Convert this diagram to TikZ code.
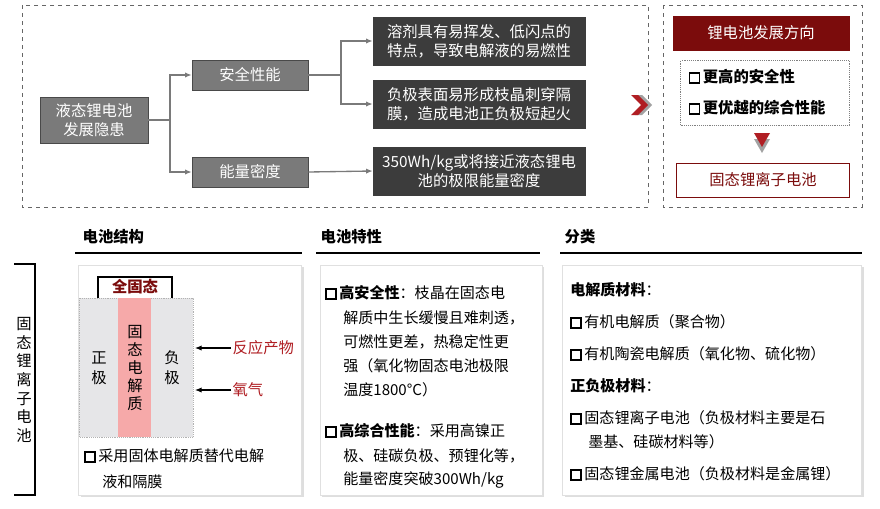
\documentclass[tikz,border=0pt]{standalone}
\usepackage{fontspec}
\setmainfont{Noto Sans CJK SC}
\usetikzlibrary{arrows.meta,shadows}
\definecolor{dred}{HTML}{7B0C0C}
\definecolor{mgray}{HTML}{7A7A7A}
\definecolor{dgray}{HTML}{3C3C3C}
\definecolor{lgray}{HTML}{E6E6E8}
\definecolor{pinkc}{HTML}{F6A9A9}
\definecolor{redc}{HTML}{B01E23}
\newcommand\bx{\tikz[baseline=0pt,x=1pt,y=1pt]\draw[line width=1.2pt,black](0,0)rectangle(7.5,7.5);\,}
\begin{document}
\begin{tikzpicture}[x=0.75pt,y=-0.75pt,
  gbox/.style={fill=mgray,text=white,draw=mgray!60!black,font=\fontsize{11.5}{14}\selectfont,align=center,inner sep=2pt},
  dbox/.style={fill=dgray,text=white,draw=dgray,font=\fontsize{11.5}{14}\selectfont,align=center,inner sep=2pt},
  conn/.style={draw=mgray,line width=1pt,-{Latex[length=5pt,width=4pt]}},
  panel/.style={draw=black!12,fill=white,drop shadow={shadow xshift=1.5pt,shadow yshift=-1.5pt,fill=black!25}},
  hdr/.style={font=\fontsize{11.5}{13}\selectfont\bfseries,anchor=west},
  txt/.style={font=\fontsize{11.3}{12}\selectfont,anchor=west,inner sep=0pt}]
\useasboundingbox (0,0) rectangle (880,508);
\fill[white] (0,0) rectangle (880,508);
% top left frame
\draw[dashed,black!60] (22,5) rectangle (648,207);
\node[gbox,minimum width=108*0.75pt,minimum height=46*0.75pt] (a) at (94,120) {液态锂电池\\发展隐患};
\node[gbox,minimum width=116*0.75pt,minimum height=30*0.75pt] (s) at (250,75) {安全性能};
\node[gbox,minimum width=116*0.75pt,minimum height=30*0.75pt] (e) at (250,172) {能量密度};
\node[dbox,minimum width=212*0.75pt,minimum height=48*0.75pt] (d1) at (479,41) {溶剂具有易挥发、低闪点的\\特点，导致电解液的易燃性};
\node[dbox,minimum width=212*0.75pt,minimum height=48*0.75pt] (d2) at (479,104) {负极表面易形成枝晶刺穿隔\\膜，造成电池正负极短起火};
\node[dbox,minimum width=212*0.75pt,minimum height=48*0.75pt] (d3) at (479,171) {350Wh/kg或将接近液态锂电\\池的极限能量密度};
\coordinate (j1) at (170,120);
\coordinate (j2) at (341,75);
\draw[draw=mgray,line width=1pt] (a.east) -- (j1);
\draw[conn] (j1) |- (s.west);
\draw[conn] (j1) |- (e.west);
\draw[draw=mgray,line width=1pt] (s.east) -- (j2);
\draw[conn] (j2) |- (d1.west);
\draw[conn] (j2) |- (d2.west);
\draw[conn] (e.east) -- (d3.west);
% chevron
\fill[mgray!70] (635,95) -- (642,95) -- (652,105) -- (642,115) -- (635,115) -- (645,105) -- cycle;
\fill[redc] (631,95) -- (638,95) -- (648,105) -- (638,115) -- (631,115) -- (641,105) -- cycle;
% right frame
\draw[dashed,black!60] (663,5) rectangle (862,207);
\node[fill=dred,text=white,font=\fontsize{11.5}{13}\selectfont,minimum width=177*0.75pt,minimum height=35*0.75pt] (r1) at (761,33) {锂电池发展方向};
\node[draw=black!50,densely dotted,minimum width=169*0.75pt,minimum height=65*0.75pt] (r2) at (765,93) {};
\node[font=\fontsize{11.5}{13}\selectfont\bfseries,anchor=west] (b1) at (684,77) {\bx 更高的安全性};
\node[font=\fontsize{11.5}{13}\selectfont\bfseries,anchor=west] (b2) at (684,108) {\bx 更优越的综合性能};
\fill[mgray!70] (754,139) -- (770,139) -- (762,153) -- cycle;
\fill[redc] (754,133) -- (770,133) -- (762,147) -- cycle;
\node[draw=dred,text=dred,font=\fontsize{11.5}{13}\selectfont,minimum width=173*0.75pt,minimum height=34*0.75pt] (r3) at (763,180) {固态锂离子电池};
% headers
\node[hdr] (h1) at (78,237) {电池结构};
\node[hdr] (h2) at (316,237) {电池特性};
\node[hdr] (h3) at (560,237) {分类};
\draw[line width=0.9pt] (75,253) -- (302,253);
\draw[line width=0.9pt] (316,253) -- (540,253);
\draw[line width=0.9pt] (560,253) -- (862,253);
% bracket
\draw[line width=0.8pt] (14,264) -- (35,264) -- (35,495) -- (14,495);
\node[font=\fontsize{11.5}{14}\selectfont,align=center,inner sep=0pt] (vt) at (24,380) {固\\态\\锂\\离\\子\\电\\池};
% panels
\node[panel,minimum width=223*0.75pt,minimum height=230*0.75pt] (p1) at (190,380) {};
\node[panel,minimum width=222*0.75pt,minimum height=230*0.75pt] (p2) at (431,380) {};
\node[panel,minimum width=299*0.75pt,minimum height=230*0.75pt] (p3) at (712,380) {};
% battery
\fill[lgray] (79,298) rectangle (193,437);
\draw[black!30,densely dotted] (79,298) rectangle (193,437);
\fill[pinkc] (118,298) rectangle (151,437);
\draw[line width=1pt] (98,298) -- (98,277) -- (172,277) -- (172,298);
\node[text=dred,font=\fontsize{11.5}{13}\selectfont\bfseries] (qg) at (135,287) {全固态};
\node[font=\fontsize{11.5}{15}\selectfont,align=center] (zj) at (99,368) {正\\极};
\node[font=\fontsize{11.5}{13.5}\selectfont,align=center,inner sep=0pt] (gt) at (135,368) {固\\态\\电\\解\\质};
\node[font=\fontsize{11.5}{15}\selectfont,align=center] (fj) at (172,368) {负\\极};
\node[text=redc,font=\fontsize{11.5}{13}\selectfont,anchor=west,inner sep=1pt] (fy) at (231,348) {反应产物};
\node[text=redc,font=\fontsize{11.5}{13}\selectfont,anchor=west,inner sep=1pt] (yq) at (231,390) {氧气};
\draw[-{Latex[length=5pt,width=4pt]},line width=0.8pt] (fy.west) -- (195,348);
\draw[-{Latex[length=5pt,width=4pt]},line width=0.8pt] (yq.west) -- (195,390);
\node[txt] (t1) at (84,456) {\bx 采用固体电解质替代电解};
\node[txt] (t2) at (102,482) {液和隔膜};
% middle
\node[txt] (m1) at (325,293) {\bx \textbf{高安全性}：枝晶在固态电};
\node[txt] (m2) at (343,318) {解质中生长缓慢且难刺透，};
\node[txt] (m3) at (343,342) {可燃性更差，热稳定性更};
\node[txt] (m4) at (343,366) {强（氧化物固态电池极限};
\node[txt] (m5) at (343,390) {温度1800°C）};
\node[txt] (m6) at (325,431) {\bx \textbf{高综合性能}：采用高镍正};
\node[txt] (m7) at (343,456) {极、硅碳负极、预锂化等，};
\node[txt] (m8) at (343,480) {能量密度突破300Wh/kg};
% right
\node[txt] (c1) at (570,290) {\textbf{电解质材料}：};
\node[txt] (c2) at (570,322) {\bx 有机电解质（聚合物）};
\node[txt] (c3) at (570,354) {\bx 有机陶瓷电解质（氧化物、硫化物）};
\node[txt] (c4) at (570,386) {\textbf{正负极材料}：};
\node[txt] (c5) at (570,418) {\bx 固态锂离子电池（负极材料主要是石};
\node[txt] (c6) at (588,442) {墨基、硅碳材料等）};
\node[txt] (c7) at (570,474) {\bx 固态锂金属电池（负极材料是金属锂）};
\end{tikzpicture}
\end{document}
